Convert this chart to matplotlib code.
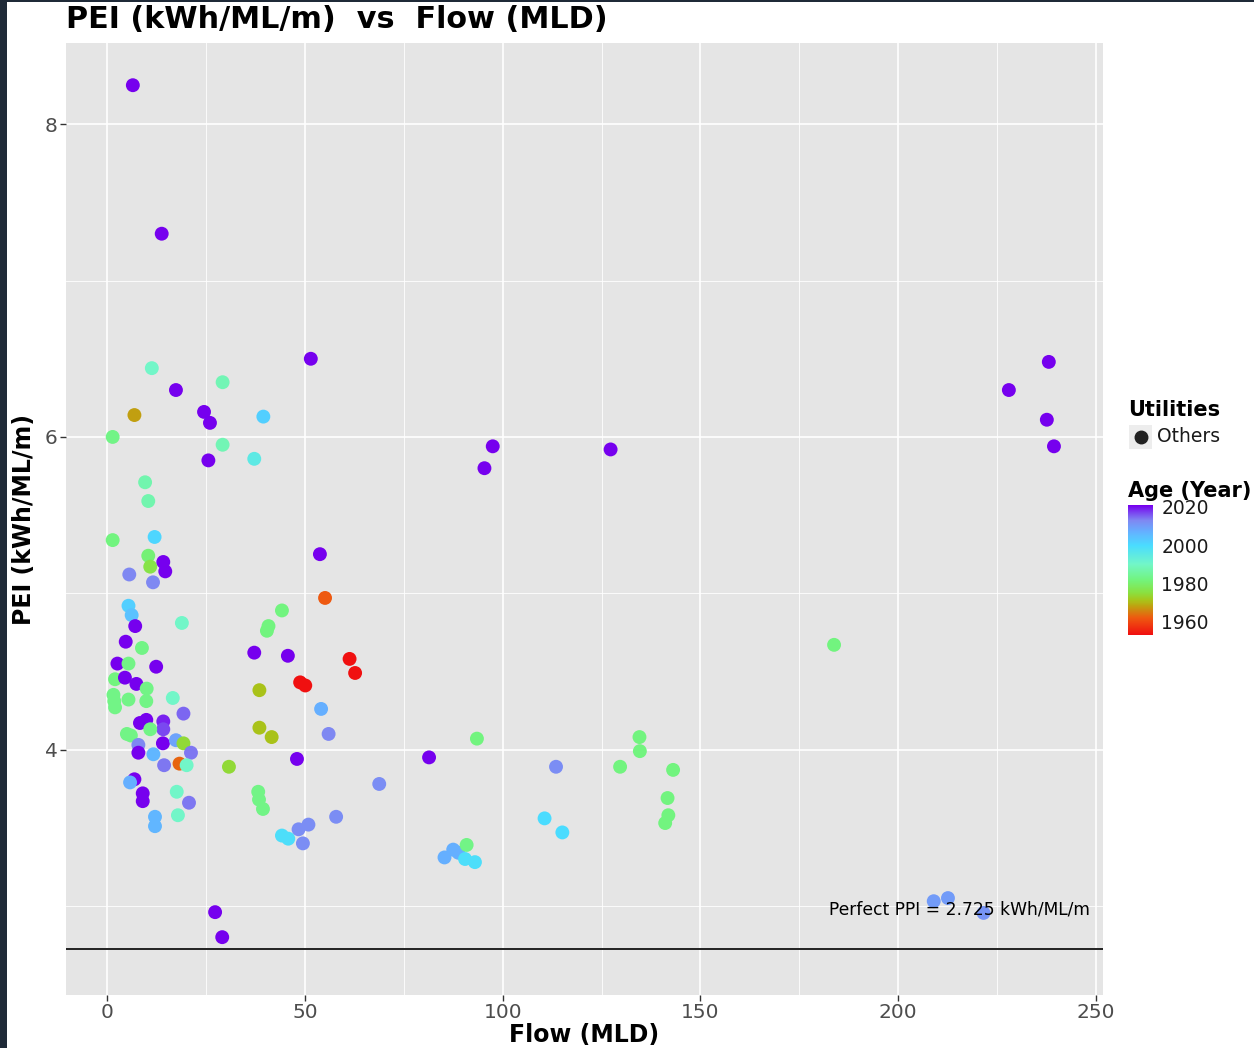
import matplotlib.pyplot as plt
import numpy as np
from matplotlib.colors import LinearSegmentedColormap, Normalize
from matplotlib.patches import Rectangle
from matplotlib.lines import Line2D
from matplotlib.cm import ScalarMappable

W, H = 1254, 1048

# flow (MLD), PEI (kWh/ML/m) and commissioning year for each utility
flow = [
    6.5, 13.8, 51.5, 11.3, 17.4, 29.2, 6.9, 24.5, 26.0, 39.5,
    1.4, 29.2, 25.6, 37.2, 9.6, 10.4, 1.4, 12.0, 10.4, 10.9,
    14.2, 14.7, 5.6, 11.6, 53.8, 5.4, 6.2, 7.1, 18.9, 55.1,
    44.2, 40.8, 40.4, 4.7, 8.8, 2.6, 5.4, 12.4, 37.2, 45.7,
    61.3, 62.7, 48.8, 50.1, 2.0, 4.5, 7.4, 10.0, 38.5, 1.6,
    1.8, 2.0, 5.4, 9.9, 16.6, 19.3, 54.1, 8.3, 9.9, 14.2,
    14.2, 10.9, 5.0, 6.0, 38.5, 41.6, 56.0, 7.9, 7.9, 14.1,
    17.4, 19.3, 21.2, 11.7, 14.4, 18.3, 20.1, 30.8, 48.0, 93.5,
    81.4, 113.5, 134.6, 134.7, 129.7, 143.1, 6.9, 5.8, 9.0, 9.0,
    17.6, 20.7, 68.8, 38.2, 38.4, 39.4, 17.9, 12.1, 12.1, 57.9,
    50.9, 48.4, 49.5, 44.2, 45.8, 141.7, 141.9, 141.1, 110.6, 115.1,
    85.3, 87.5, 88.8, 90.9, 90.5, 93.0, 97.5, 95.4, 127.3, 228.0,
    238.1, 237.6, 239.4, 183.8, 209.0, 212.6, 221.6, 27.3, 29.1,
]
pei = [
    8.25, 7.30, 6.50, 6.44, 6.30, 6.35, 6.14, 6.16, 6.09, 6.13,
    6.00, 5.95, 5.85, 5.86, 5.71, 5.59, 5.34, 5.36, 5.24, 5.17,
    5.20, 5.14, 5.12, 5.07, 5.25, 4.92, 4.86, 4.79, 4.81, 4.97,
    4.89, 4.79, 4.76, 4.69, 4.65, 4.55, 4.55, 4.53, 4.62, 4.60,
    4.58, 4.49, 4.43, 4.41, 4.45, 4.46, 4.42, 4.39, 4.38, 4.35,
    4.31, 4.27, 4.32, 4.31, 4.33, 4.23, 4.26, 4.17, 4.19, 4.18,
    4.13, 4.13, 4.10, 4.09, 4.14, 4.08, 4.10, 4.03, 3.98, 4.04,
    4.06, 4.04, 3.98, 3.97, 3.90, 3.91, 3.90, 3.89, 3.94, 4.07,
    3.95, 3.89, 4.08, 3.99, 3.89, 3.87, 3.81, 3.79, 3.72, 3.67,
    3.73, 3.66, 3.78, 3.73, 3.68, 3.62, 3.58, 3.57, 3.51, 3.57,
    3.52, 3.49, 3.40, 3.45, 3.43, 3.69, 3.58, 3.53, 3.56, 3.47,
    3.31, 3.36, 3.34, 3.39, 3.30, 3.28, 5.94, 5.80, 5.92, 6.30,
    6.48, 6.11, 5.94, 4.67, 3.03, 3.05, 2.955, 2.96, 2.80,
]
year = [
    2021, 2021, 2021, 1990, 2021, 1988, 1968, 2021, 2021, 2002,
    1983, 1988, 2021, 1995, 1987, 1987, 1982, 2001, 1981, 1976,
    2021, 2021, 2013, 2013, 2021, 2002, 2004, 2021, 1990, 1962,
    1982, 1982, 1982, 2021, 1983, 2021, 1983, 2021, 2021, 2021,
    1953, 1953, 1953, 1953, 1982, 2021, 2021, 1983, 1971, 1983,
    1983, 1983, 1983, 1983, 1990, 2015, 2007, 2021, 2021, 2019,
    2017, 1983, 1983, 1983, 1971, 1971, 2013, 2013, 2021, 2021,
    2009, 1974, 2014, 2006, 2014, 1963, 1990, 1974, 2021, 1982,
    2021, 2012, 1982, 1982, 1982, 1982, 2021, 2007, 2021, 2021,
    1990, 2014, 2012, 1983, 1983, 1983, 1990, 2006, 2006, 2012,
    2012, 2012, 2012, 1999, 1999, 1982, 1982, 1982, 2000, 2000,
    2007, 2007, 2007, 1983, 1999, 1999, 2021, 2021, 2021, 2021,
    2021, 2021, 2021, 1982, 2010, 2010, 2011, 2021, 2021,
]

perfect_ppi = 2.725
year_ticks = [1960, 1980, 2000, 2020]

# rainbow gradient, red (oldest) to purple (newest)
stops = [
    (0.000, "#f01010"), (0.132, "#ee5a10"), (0.221, "#c0a010"),
    (0.265, "#a8c41a"), (0.324, "#8ae040"), (0.426, "#72f47e"),
    (0.544, "#72f6c8"), (0.691, "#4adcff"), (0.794, "#64b0ff"),
    (0.882, "#7f88f2"), (0.941, "#7a48f0"), (1.000, "#7600ee"),
]
cmap = LinearSegmentedColormap.from_list("age", stops)
norm = Normalize(vmin=min(year), vmax=max(year))

fig = plt.figure(figsize=(W / 100, H / 100), dpi=100)
fig.patch.set_facecolor("white")

ax = fig.add_axes([66 / W, 1 - 995 / H, (1103 - 66) / W, (995 - 43) / H])
ax.set_facecolor("#e5e5e5")
for s in ax.spines.values():
    s.set_visible(False)

ax.set_xlim(-10.4, 251.8)
ax.set_ylim(2.43, 8.52)
ax.set_xticks([0, 50, 100, 150, 200, 250])
ax.set_xticks([25, 75, 125, 175, 225], minor=True)
ax.set_yticks([4, 6, 8])
ax.set_yticks([3, 5, 7], minor=True)
ax.grid(which="major", color="white", lw=1.2)
ax.grid(which="minor", color="white", lw=0.6)
ax.set_axisbelow(True)
ax.tick_params(which="major", length=4, width=1, color="#333333",
               labelsize=14.5, labelcolor="#4d4d4d", pad=2)
ax.tick_params(which="minor", length=0)

ax.axhline(perfect_ppi, color="#222222", lw=1.4, zorder=2)
ax.scatter(flow, pei, c=year, cmap=cmap, norm=norm, s=100,
           linewidths=0, zorder=3)
ax.text(215.5, 2.98, f"Perfect PPI = {perfect_ppi} kWh/ML/m",
        ha="center", va="center", fontsize=12.3, color="black", zorder=5)

ax.set_xlabel("Flow (MLD)", fontsize=17, fontweight="bold")
ax.set_ylabel("PEI (kWh/ML/m)", fontsize=17, fontweight="bold")
ax.xaxis.set_label_coords(0.5, -0.042)
ax.xaxis.label.set_va("center")
ax.yaxis.set_label_coords(-0.0405, 0.5)
ax.yaxis.label.set_va("center")

fig.text(66 / W, 1 - 19 / H, "PEI (kWh/ML/m)  vs  Flow (MLD)",
         ha="left", va="center", fontsize=21.8, fontweight="bold")

# shape legend
fig.text(1128 / W, 1 - 410 / H, "Utilities", ha="left", va="center",
         fontsize=15, fontweight="bold")
fig.patches.append(Rectangle((1129 / W, 1 - 449 / H), 23 / W, 24 / H,
                             transform=fig.transFigure, facecolor="#ededed",
                             edgecolor="none"))
fig.lines.append(Line2D([1141 / W], [1 - 437 / H], transform=fig.transFigure,
                        marker="o", markersize=9, color="#222222", lw=0))
fig.text(1157 / W, 1 - 437 / H, "Others", ha="left", va="center",
         fontsize=13.5, color="#1a1a1a")

# colour legend
fig.text(1128 / W, 1 - 491 / H, "Age (Year)", ha="left", va="center",
         fontsize=15, fontweight="bold")
cax = fig.add_axes([1128 / W, 1 - 635 / H, 25 / W, 130 / H])
cb = fig.colorbar(ScalarMappable(norm=norm, cmap=cmap), cax=cax)
cb.outline.set_visible(False)
cb.set_ticks(year_ticks)
cax.tick_params(length=0, labelsize=13.5, labelcolor="#1a1a1a", pad=6)

# dark frame strips along the left and top edges
fig.patches.append(Rectangle((0, 0), 7 / W, 1, transform=fig.transFigure,
                             facecolor="#1f2a38", edgecolor="none"))
fig.patches.append(Rectangle((0, 1 - 2 / H), 1, 2 / H, transform=fig.transFigure,
                             facecolor="#1f2a38", edgecolor="none"))

fig.savefig("out.png", dpi=100)
